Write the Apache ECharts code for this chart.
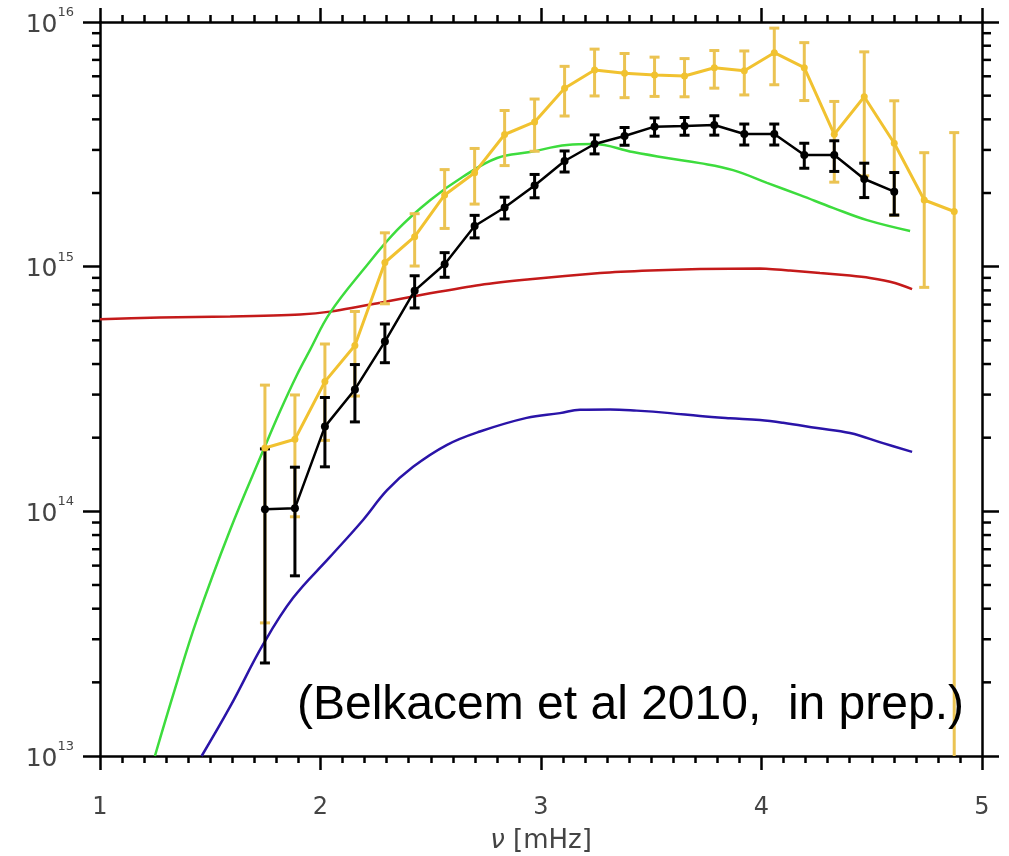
<!DOCTYPE html>
<html>
<head>
<meta charset="utf-8">
<title>Excitation rate</title>
<script src="https://cdn.jsdelivr.net/npm/echarts@6/dist/echarts.min.js"></script>
<style>
  html, body { margin: 0; padding: 0; background: #ffffff; }
  #chart { width: 1009px; height: 856px; }
</style>
</head>
<body>
<div id="chart"></div>
<script>
// Frequencies of the observed modes, in mHz
const modeFreq = [1.748, 1.884, 2.020, 2.156, 2.292, 2.427, 2.563, 2.699, 2.835, 2.971, 3.107, 3.243,
                  3.379, 3.515, 3.651, 3.786, 3.922, 4.058, 4.194, 4.330, 4.466, 4.602, 4.738, 4.874];

// Observed rates (black) and their 1-sigma errors, in units of 1e15
const obsBlack = [0.102, 0.103, 0.222, 0.315, 0.494, 0.798, 1.023, 1.466, 1.745, 2.147, 2.704, 3.173,
                  3.420, 3.734, 3.758, 3.793, 3.485, 3.485, 2.860, 2.860, 2.282, 2.025];
const errBlack = [0.078, 0.0485, 0.070, 0.083, 0.089, 0.120, 0.118, 0.155, 0.178, 0.235, 0.267, 0.283,
                  0.285, 0.320, 0.313, 0.345, 0.343, 0.343, 0.335, 0.410, 0.366, 0.400];

// Observed rates (yellow) and their 1-sigma errors, in units of 1e15
const obsYellow = [0.1815, 0.197, 0.339, 0.476, 1.040, 1.326, 1.963, 2.422, 3.469, 3.903, 5.358, 6.366,
                   6.171, 6.074, 6.017, 6.505, 6.324, 7.490, 6.505, 3.475, 4.950, 3.194, 1.873, 1.681];
const errYellow = [0.1465, 0.102, 0.144, 0.180, 0.335, 0.320, 0.530, 0.620, 0.880, 0.940, 1.230, 1.380,
                   1.265, 1.110, 1.070, 1.140, 1.290, 1.950, 1.730, 1.260, 2.600, 1.570, 1.050, 1.850];

// Model curves
const greenFreq = [1.249, 1.340, 1.439, 1.590, 1.741, 1.816, 1.893, 1.952, 2.043, 2.193, 2.347, 2.497,
                   2.646, 2.801, 2.950, 3.118, 3.236, 3.417, 3.571, 3.721, 3.871, 4.025, 4.175, 4.324,
                   4.479, 4.674];
const greenRate = [1.0e13, 1.88e13, 3.60e13, 8.39e13, 1.78e14, 2.56e14, 3.61e14, 4.56e14, 6.47e14,
                   9.69e14, 1.41e15, 1.87e15, 2.33e15, 2.78e15, 2.94e15, 3.14e15, 3.17e15, 2.94e15,
                   2.78e15, 2.65e15, 2.48e15, 2.20e15, 1.96e15, 1.74e15, 1.55e15, 1.40e15];

const redFreq = [1.0, 1.272, 1.590, 1.907, 2.043, 2.270, 2.497, 2.723, 2.950, 3.268, 3.494, 3.721,
                 3.993, 4.129, 4.265, 4.401, 4.492, 4.605, 4.683];
const redRate = [6.10e14, 6.20e14, 6.26e14, 6.38e14, 6.55e14, 7.12e14, 7.78e14, 8.42e14, 8.88e14,
                 9.42e14, 9.65e14, 9.78e14, 9.83e14, 9.65e14, 9.42e14, 9.20e14, 8.99e14, 8.58e14, 8.10e14];

const blueFreq = [1.461, 1.590, 1.741, 1.875, 2.043, 2.193, 2.302, 2.420, 2.574, 2.723, 2.935, 3.086,
                  3.177, 3.313, 3.434, 3.585, 3.721, 3.857, 3.993, 4.098, 4.252, 4.401, 4.551, 4.683];
const blueRate = [1.0e13, 1.59e13, 2.87e13, 4.42e13, 6.51e13, 9.22e13, 1.22e14, 1.52e14, 1.87e14,
                  2.12e14, 2.41e14, 2.52e14, 2.60e14, 2.61e14, 2.58e14, 2.52e14, 2.45e14, 2.40e14,
                  2.36e14, 2.30e14, 2.19e14, 2.09e14, 1.90e14, 1.75e14];

// Axis ranges and tick labels
const xTicks = [1, 2, 3, 4, 5];
const yDecades = [13, 14, 15, 16];
const UNIT = 1e15;
const Y_MIN = 1e13, Y_MAX = 1e16;

const LABEL_FONT = '"DejaVu Sans", sans-serif';
const C_YELLOW = '#f1c230', C_YELLOW_BAR = '#ebc352';
const C_BLACK = '#000000', C_GREEN = '#3ddc3d', C_RED = '#c41a1a', C_BLUE = '#2a14a8';

// log-axis minor tick positions (2..9 × 10^k)
const minorVals = [];
yDecades.slice(0, -1).forEach(d => {
  for (let m = 2; m <= 9; m++) minorVals.push(m * Math.pow(10, d));
});

const pairs = (xs, ys, k) => xs.slice(0, ys.length).map((x, i) => [x, ys[i] * (k || 1)]);

function errorBars(name, vals, errs, color, half, width) {
  return {
    name, type: 'custom', clip: false, z: 3,
    data: vals.map((v, i) => [modeFreq[i], (v - errs[i]) * UNIT, (v + errs[i]) * UNIT]),
    encode: { x: 0, y: [1, 2] },
    renderItem: (params, api) => {
      const x = api.value(0);
      let lo = api.value(1);
      const hi = api.value(2);
      const cut = lo < Y_MIN;
      if (cut) lo = Y_MIN;
      const t = api.coord([x, hi]);
      const b = api.coord([x, lo]);
      const st = { stroke: color, lineWidth: width };
      const kids = [
        { type: 'line', shape: { x1: t[0], y1: t[1], x2: b[0], y2: b[1] }, style: st },
        { type: 'line', shape: { x1: t[0] - half, y1: t[1], x2: t[0] + half, y2: t[1] }, style: st }
      ];
      if (!cut) kids.push({ type: 'line', shape: { x1: b[0] - half, y1: b[1], x2: b[0] + half, y2: b[1] }, style: st });
      return { type: 'group', children: kids };
    }
  };
}

const chart = echarts.init(document.getElementById('chart'), null, { renderer: 'canvas' });

chart.setOption({
  animation: false,
  backgroundColor: '#ffffff',
  grid: { left: 100, right: 27, top: 22, bottom: 100, outerBoundsMode: 'none', containLabel: false },
  xAxis: [
    {
      type: 'value', min: xTicks[0], max: xTicks[xTicks.length - 1], interval: 1,
      axisLine: { lineStyle: { color: '#000', width: 2.5 } },
      axisTick: { show: true, inside: false, length: 14, lineStyle: { color: '#000', width: 2.5 } },
      minorTick: { show: true, splitNumber: 10, length: 7, lineStyle: { color: '#000', width: 2.5 } },
      splitLine: { show: false },
      axisLabel: { margin: 40, fontSize: 24, fontFamily: LABEL_FONT, color: '#444' },
      name: '{i|ν} [mHz]',
      nameLocation: 'middle', nameGap: 72,
      nameTextStyle: {
        fontSize: 26, fontFamily: LABEL_FONT, color: '#444',
        rich: { i: { fontSize: 26, fontStyle: 'italic', fontFamily: LABEL_FONT, color: '#444' } }
      }
    },
    {
      type: 'value', position: 'top', min: xTicks[0], max: xTicks[xTicks.length - 1], interval: 1,
      axisLine: { show: true, lineStyle: { color: '#000', width: 2.5 } },
      axisTick: { show: true, inside: false, length: 14, lineStyle: { color: '#000', width: 2.5 } },
      minorTick: { show: true, splitNumber: 10, length: 7, lineStyle: { color: '#000', width: 2.5 } },
      splitLine: { show: false },
      axisLabel: { show: false }
    }
  ],
  yAxis: [
    {
      type: 'log', logBase: 10, min: Y_MIN, max: Y_MAX,
      axisLine: { show: true, lineStyle: { color: '#000', width: 2.5 } },
      axisTick: { show: true, inside: false, length: 17, lineStyle: { color: '#000', width: 2.5 } },
      splitLine: { show: false },
      axisLabel: {
        margin: 26,
        formatter: v => '{b|10}{s|' + Math.round(Math.log10(v)) + '}',
        rich: {
          b: { fontSize: 25, fontFamily: LABEL_FONT, color: '#444', lineHeight: 32, padding: [6, 0, 0, 0] },
          s: { fontSize: 13, fontFamily: LABEL_FONT, color: '#444', lineHeight: 14, verticalAlign: 'top' }
        }
      }
    },
    {
      type: 'log', logBase: 10, min: Y_MIN, max: Y_MAX, position: 'right',
      axisLine: { show: true, lineStyle: { color: '#000', width: 2.5 } },
      axisTick: { show: true, inside: false, length: 17, lineStyle: { color: '#000', width: 2.5 } },
      splitLine: { show: false },
      axisLabel: { show: false }
    }
  ],
  series: [
    // minor ticks of the logarithmic axes, both sides
    {
      type: 'custom', clip: false, silent: true, z: 1,
      data: minorVals.map(v => [xTicks[0], v]),
      renderItem: (params, api) => {
        const p = api.coord([api.value(0), api.value(1)]);
        const r = params.coordSys;
        const st = { stroke: '#000', lineWidth: 2.5 };
        return {
          type: 'group', children: [
            { type: 'line', shape: { x1: r.x - 8, y1: p[1], x2: r.x, y2: p[1] }, style: st },
            { type: 'line', shape: { x1: r.x + r.width, y1: p[1], x2: r.x + r.width + 9, y2: p[1] }, style: st }
          ]
        };
      }
    },
    {
      name: 'red', type: 'line', data: pairs(redFreq, redRate), showSymbol: false, smooth: 0.2, z: 2,
      lineStyle: { color: C_RED, width: 2.5 }
    },
    {
      name: 'green', type: 'line', data: pairs(greenFreq, greenRate), showSymbol: false, smooth: 0.4, z: 2,
      lineStyle: { color: C_GREEN, width: 2.5 }
    },
    {
      name: 'blue', type: 'line', data: pairs(blueFreq, blueRate), showSymbol: false, smooth: 0.4, z: 2,
      lineStyle: { color: C_BLUE, width: 2.5 }
    },
    errorBars('yellow-err', obsYellow, errYellow, C_YELLOW_BAR, 5, 3),
    {
      name: 'yellow', type: 'line', data: pairs(modeFreq, obsYellow, UNIT), z: 4,
      symbol: 'circle', symbolSize: 7,
      itemStyle: { color: C_YELLOW }, lineStyle: { color: C_YELLOW, width: 3 }
    },
    errorBars('black-err', obsBlack, errBlack, C_BLACK, 5, 3),
    {
      name: 'black', type: 'line', data: pairs(modeFreq, obsBlack, UNIT), z: 5,
      symbol: 'circle', symbolSize: 8,
      itemStyle: { color: C_BLACK }, lineStyle: { color: C_BLACK, width: 2.5 }
    }
  ],
  graphic: [
    {
      type: 'text', left: 297, top: 682, z: 10,
      style: { text: '(Belkacem et al 2010,  in prep.)', font: '48px "Liberation Sans", Arial, sans-serif', fill: '#000' }
    }
  ]
});
</script>
</body>
</html>
